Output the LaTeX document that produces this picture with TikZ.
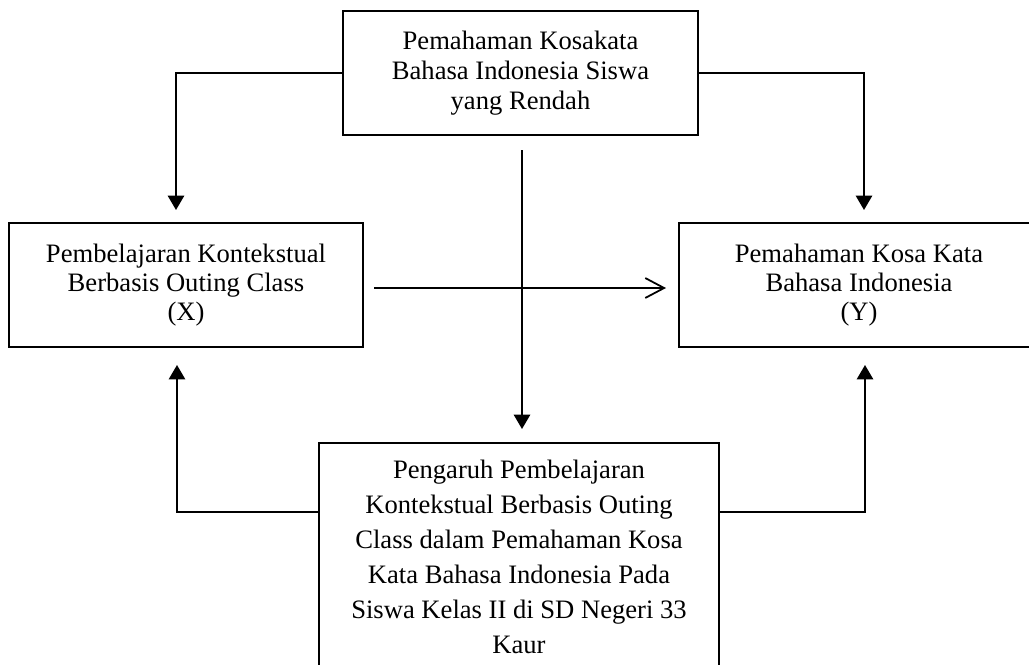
\documentclass[tikz,border=0pt]{standalone}
\usepackage{fontspec}
\setmainfont{Liberation Serif}
\usetikzlibrary{arrows.meta}
\def\pxu{0.451pt}
\tikzstyle{box} = [draw,line width=0.55pt,inner sep=0pt,align=center,font=\fontsize{12}{13.5}\selectfont]
\tikzstyle{link} = [line width=0.8pt,-{Triangle[width=7.4pt,length=6.5pt]}]
\tikzstyle{flow} = [line width=0.8pt,-{Straight Barb[width=9pt,length=8.5pt]}]
\begin{document}
\begin{tikzpicture}[x=\pxu,y=-\pxu]
    \useasboundingbox (0,0) rectangle (1029,664);
    \clip (0,0) rectangle (1029,664);

% Draw boxes
    \node[box,minimum width=355*\pxu,minimum height=124*\pxu] at (520.5,73) (masalah)
        {Pemahaman Kosakata\\Bahasa Indonesia Siswa\\yang Rendah};
    \node[box,font=\fontsize{12}{12.9}\selectfont,minimum width=354*\pxu,minimum height=124*\pxu] at (186,285) (varx)
        {Pembelajaran Kontekstual\\Berbasis Outing Class\\(X)};
    \node[box,font=\fontsize{12}{12.9}\selectfont,minimum width=360*\pxu,minimum height=124*\pxu] at (859,285) (vary)
        {Pemahaman Kosa Kata\\Bahasa Indonesia\\(Y)};
    \node[box,font=\fontsize{12}{15.8}\selectfont,minimum width=400*\pxu,minimum height=228*\pxu] at (519,557) (judul)
        {Pengaruh Pembelajaran\\Kontekstual Berbasis Outing\\Class dalam Pemahaman Kosa\\Kata Bahasa Indonesia Pada\\Siswa Kelas II di SD Negeri 33\\Kaur};

    % end points
    \coordinate (xtip) at (176,210);
    \coordinate (ytip) at (864,210);
    \coordinate (midtop) at (522,150);
    \coordinate (midtip) at (522,429);
    \coordinate (hstart) at (374,288);
    \coordinate (hend) at (666,288);
    \coordinate (lowrow) at (0,512);
    \coordinate (xbtip) at (177,365);
    \coordinate (ybtip) at (865,365);

    % join up
    \draw[link] (masalah.west) -| (xtip);
    \draw[link] (masalah.east) -| (ytip);
    \draw[link] (midtop) -- (midtip);
    \draw[flow] (hstart) -- (hend);
    \draw[link] (judul.west |- lowrow) -| (xbtip);
    \draw[link] (judul.east |- lowrow) -| (ybtip);
\end{tikzpicture}
\end{document}
